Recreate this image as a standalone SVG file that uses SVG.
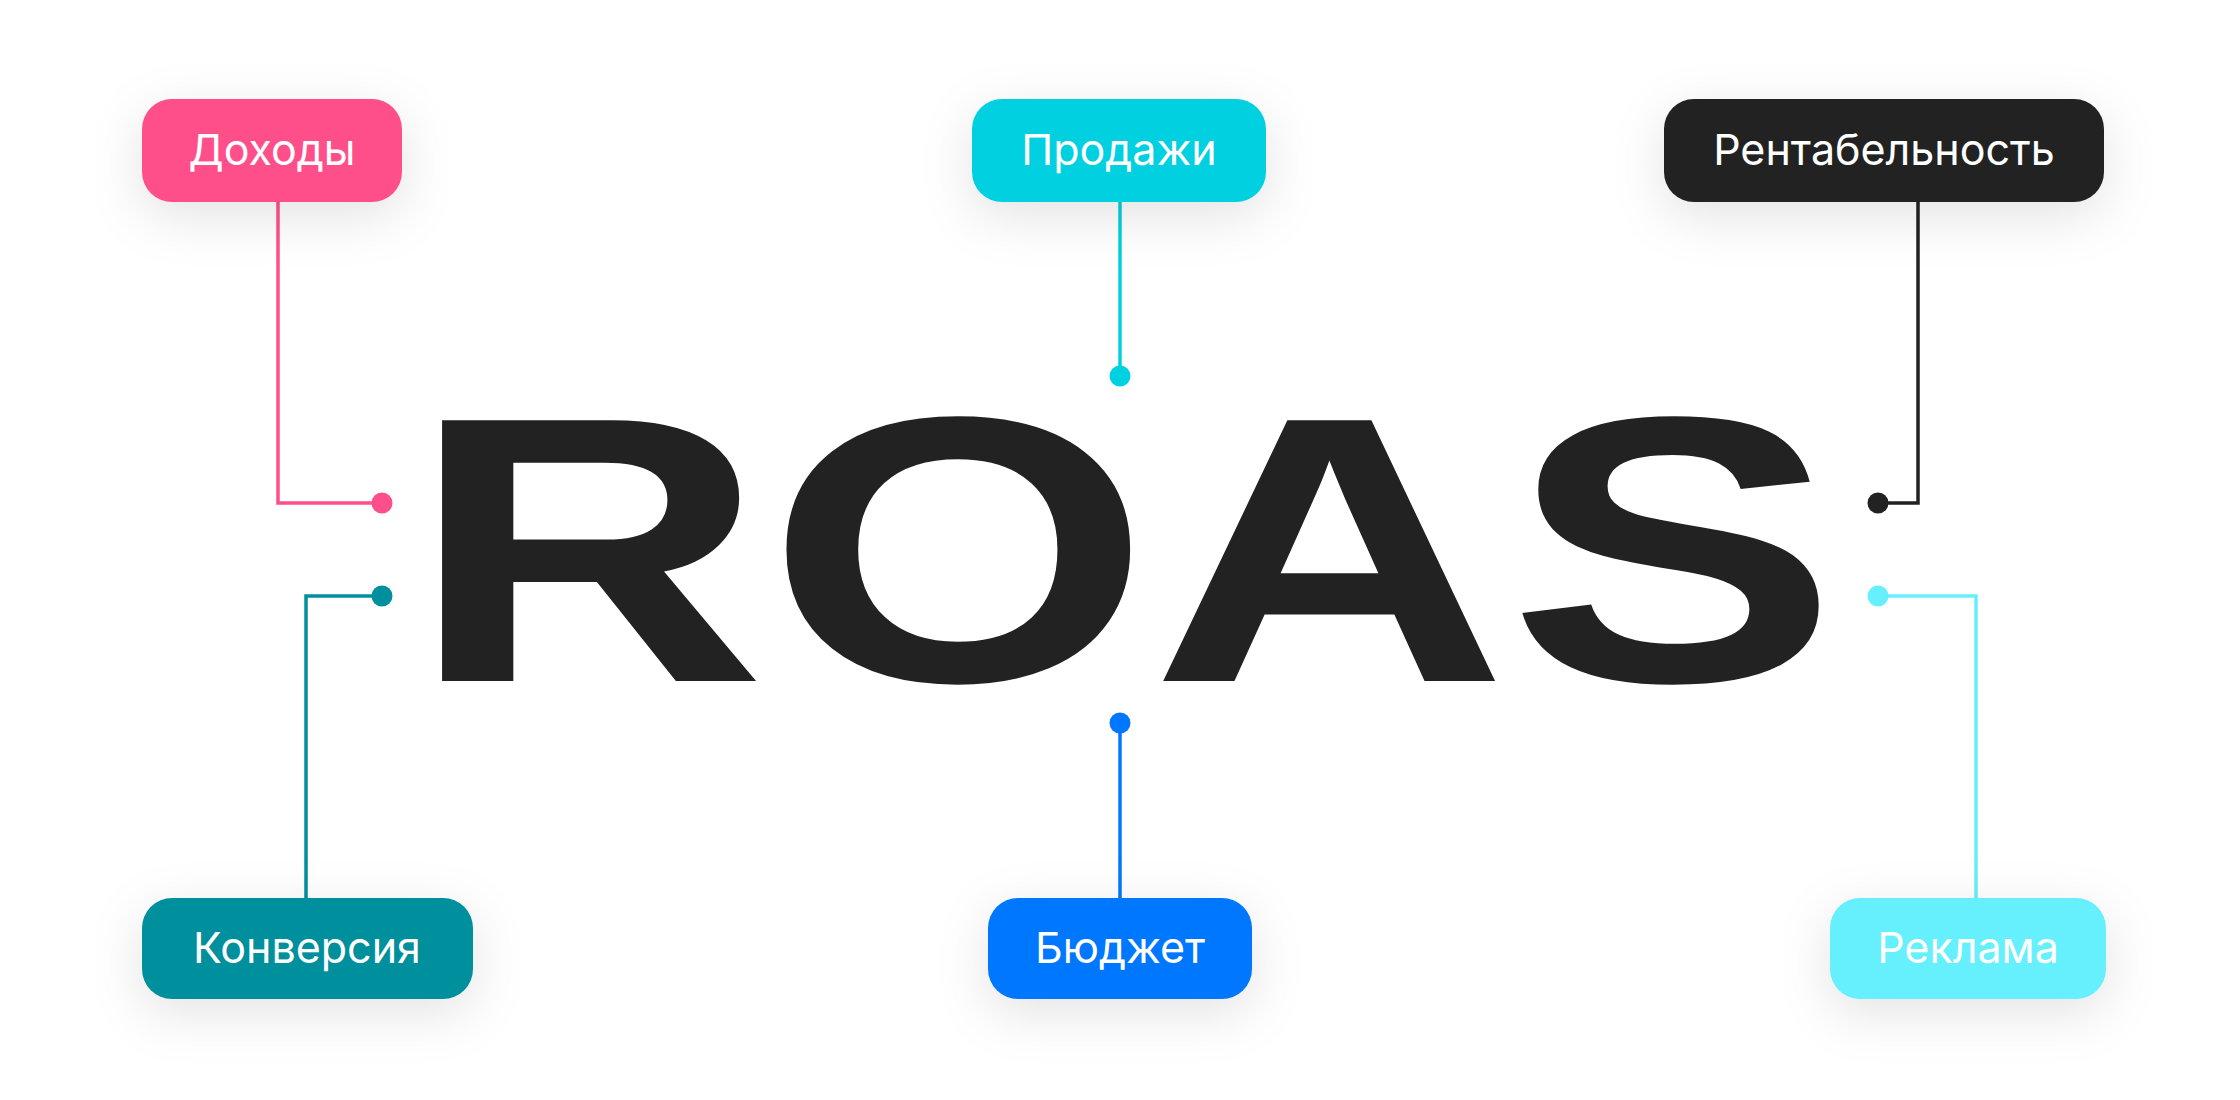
<svg xmlns="http://www.w3.org/2000/svg" width="2240" height="1100" viewBox="0 0 2240 1100">
  <defs>
    <filter id="shadow" x="-40%" y="-80%" width="180%" height="280%">
      <feDropShadow dx="0" dy="14" stdDeviation="26" flood-color="#000" flood-opacity="0.11"/>
    </filter>
  </defs>
  <style>
    .box { filter: url(#shadow); }
    .label { font-family: Inter, "Noto Sans", "Liberation Sans", sans-serif; font-size: 43px; font-weight: 400; fill: #ffffff; text-anchor: middle; }
    .conn { fill: none; stroke-width: 3.5; }
    .big { font-family: "Liberation Sans", Arial, sans-serif; font-weight: 700; font-size: 379px; fill: #222222; }
  </style>
  <rect width="2240" height="1100" fill="#ffffff"/>

  <g id="title">
    <text class="big" x="409" y="681" textLength="1429" lengthAdjust="spacingAndGlyphs">ROAS</text>
  </g>

  <g id="connectors">
    <path class="conn" stroke="#FF4F8B" d="M278 202 V503 H382"/>
    <circle cx="382" cy="503" r="10.5" fill="#FF4F8B"/>
    <path class="conn" stroke="#00D0E0" d="M1120 201 V376"/>
    <circle cx="1120" cy="376" r="10.5" fill="#00D0E0"/>
    <path class="conn" stroke="#222222" d="M1918 202 V503 H1878"/>
    <circle cx="1878" cy="503" r="10.5" fill="#222222"/>
    <path class="conn" stroke="#008F9C" d="M382 596 H306 V898"/>
    <circle cx="382" cy="596" r="10.5" fill="#008F9C"/>
    <path class="conn" stroke="#0077FF" d="M1120 723 V898"/>
    <circle cx="1120" cy="723" r="10.5" fill="#0077FF"/>
    <path class="conn" stroke="#66EFFC" d="M1878 596 H1976 V898"/>
    <circle cx="1878" cy="596" r="10.5" fill="#66EFFC"/>
  </g>

  <g id="node-dohody">
    <rect class="box" x="142" y="99" width="260" height="103" rx="30" fill="#FF4F8B"/>
    <text class="label" x="272" y="165">Доходы</text>
  </g>
  <g id="node-prodazhi">
    <rect class="box" x="972" y="99" width="294" height="103" rx="30" fill="#00D0E0"/>
    <text class="label" x="1119" y="165">Продажи</text>
  </g>
  <g id="node-rentabelnost">
    <rect class="box" x="1664" y="99" width="440" height="103" rx="30" fill="#222222"/>
    <text class="label" x="1884" y="165">Рентабельность</text>
  </g>
  <g id="node-konversiya">
    <rect class="box" x="142" y="898" width="331" height="101" rx="30" fill="#008F9C"/>
    <text class="label" x="307" y="963">Конверсия</text>
  </g>
  <g id="node-byudzhet">
    <rect class="box" x="988" y="898" width="264" height="101" rx="30" fill="#0077FF"/>
    <text class="label" x="1120" y="963">Бюджет</text>
  </g>
  <g id="node-reklama">
    <rect class="box" x="1830" y="898" width="276" height="101" rx="30" fill="#66EFFC"/>
    <text class="label" x="1968" y="963">Реклама</text>
  </g>
</svg>
